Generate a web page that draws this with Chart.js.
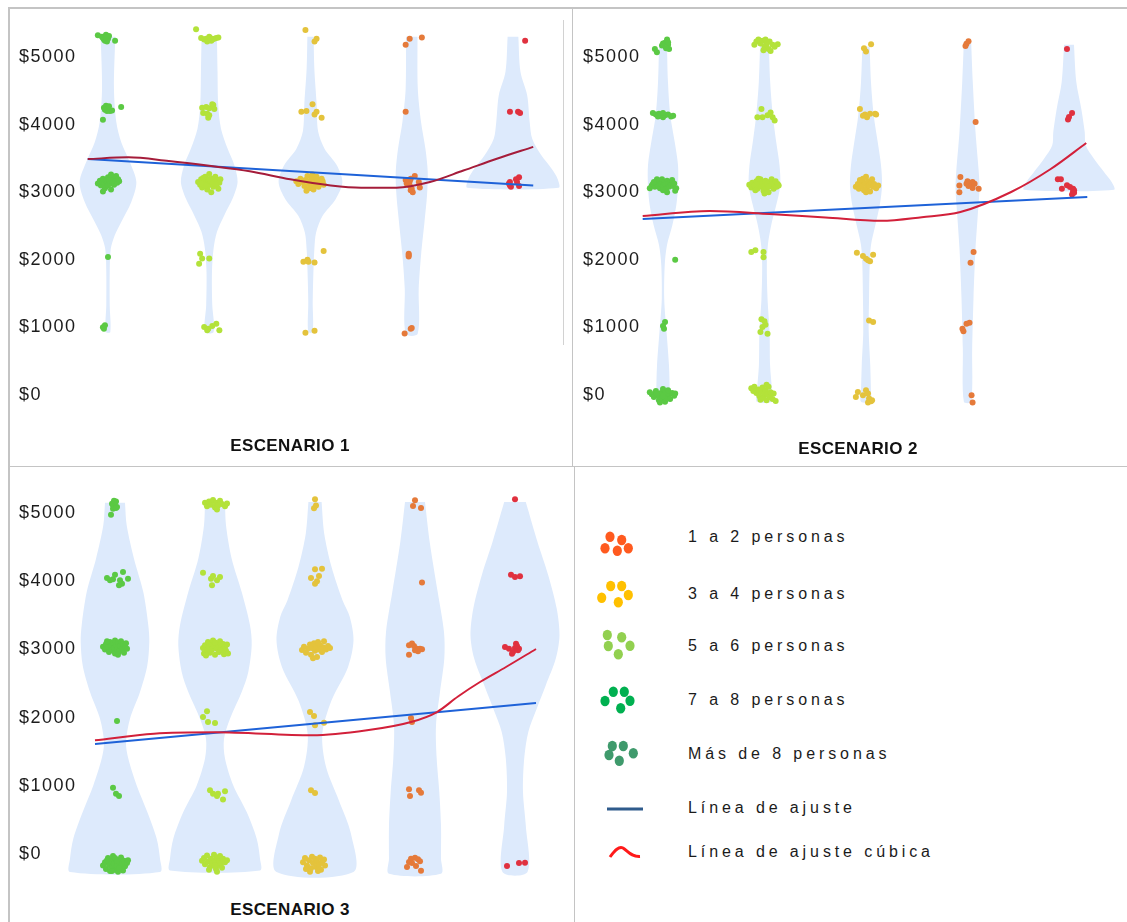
<!DOCTYPE html>
<html lang="es">
<head>
<meta charset="utf-8">
<title>Escenarios</title>
<script src="https://cdn.jsdelivr.net/npm/chart.js@4.4.1/dist/chart.umd.min.js"></script>
<style>
  html, body { margin:0; padding:0; background:#ffffff; }
  #page { position:relative; width:1127px; height:922px; overflow:hidden; background:#fff;
          font-family:'Liberation Sans', Arial, Helvetica, sans-serif; }
  .rule { position:absolute; background:#c4c4c4; }
  .panel { position:absolute; }
  .title { position:absolute; font-weight:bold; font-size:17px; letter-spacing:0.4px; color:#111;
           white-space:nowrap; transform:translate(-50%,-50%); line-height:1; }
  .legtext { position:absolute; left:688px; font-size:16px; letter-spacing:3.9px; color:#1b1b1b;
             white-space:nowrap; transform:translateY(-50%); line-height:1; }
  #legendIcons { position:absolute; left:575px; top:467px; }
</style>
</head>
<body>
<div id="page">
  <div class="rule" style="left:8px;top:7px;width:2px;height:915px;"></div>
  <div class="rule" style="left:8px;top:7px;width:1119px;height:2px;"></div>
  <div class="rule" style="left:572px;top:8px;width:1px;height:458px;"></div>
  <div class="rule" style="left:8px;top:466px;width:1119px;height:1px;"></div>
  <div class="rule" style="left:574px;top:466px;width:1px;height:456px;"></div>
  <div class="rule" style="left:563px;top:20px;width:1px;height:325px;background:#d2d2d2;"></div>
  <canvas id="c1" class="panel" width="562" height="432" style="left:10px;top:8px;"></canvas>
  <canvas id="c2" class="panel" width="554" height="432" style="left:573px;top:8px;"></canvas>
  <canvas id="c3" class="panel" width="564" height="430" style="left:10px;top:467px;"></canvas>
  <div id="titles"></div>
  <svg id="legendIcons" width="552" height="455"></svg>
  <div id="legend"></div>
</div>
<script>
// ---------------- DATA ----------------
const categoryPositions = [1, 2, 3, 4, 5];
const categoryColors = ['#5bc944', '#b3e23a', '#e4c33c', '#e57a3a', '#e0313f'];
const yTickValues = [0, 1000, 2000, 3000, 4000, 5000];
const scenarioTitles = ['ESCENARIO 1', 'ESCENARIO 2', 'ESCENARIO 3'];
const legendLabels = ['1 a 2 personas', '3 a 4 personas', '5 a 6 personas', '7 a 8 personas',
                      'Más de 8 personas', 'Línea de ajuste', 'Línea de ajuste cúbica'];
const legendDotColors = ['#ff5a1f', '#ffc000', '#92d050', '#00b050', '#3f9a6c'];

// violin profiles: [value, half width in category units], top to bottom
const s1Violins = [
  [[5300,.072],[4530,.059],[4040,.082],[3740,.131],[3450,.214],[3150,.28],[2855,.23],[2560,.131],[2360,.066],[2160,.027],[1820,.017],[1330,.017],[930,.023]],
  [[5300,.076],[4780,.082],[4285,.089],[3940,.116],[3645,.181],[3400,.248],[3150,.28],[2905,.231],[2660,.149],[2410,.076],[2165,.043],[1820,.027],[1330,.03],[930,.043]],
  [[5300,.031],[4830,.038],[4330,.06],[3900,.075],[3640,.14],[3400,.26],[3150,.315],[2900,.25],[2650,.12],[2400,.055],[2150,.038],[1870,.03],[1380,.022],[930,.022]],
  [[5300,.057],[4530,.06],[4040,.092],[3645,.135],[3300,.158],[2955,.151],[2560,.126],[2065,.092],[1575,.069],[905,.059]],
  [[5300,.053],[4780,.074],[4435,.14],[4040,.165],[3790,.19],[3545,.28],[3350,.38],[3200,.44],[3065,.45]]
];
const s2Violins = [
  [[5180,.039],[4630,.049],[4140,.072],[3745,.115],[3400,.148],[3100,.148],[2805,.131],[2510,.092],[2215,.039],[1920,.017],[1425,.012],[930,.035],[440,.059],[45,.066],[-100,.066]],
  [[5250,.042],[4630,.056],[4140,.082],[3745,.115],[3400,.148],[3100,.155],[2805,.115],[2510,.066],[2215,.033],[1920,.023],[1425,.03],[930,.05],[440,.055],[45,.075],[-100,.075]],
  [[5150,.036],[4630,.049],[4140,.076],[3745,.115],[3400,.148],[3100,.158],[2805,.135],[2510,.092],[2215,.049],[1920,.036],[1425,.03],[930,.027],[440,.042],[45,.049],[-100,.049]],
  [[5230,.036],[4630,.052],[3890,.079],[3300,.111],[3050,.118],[2660,.101],[2165,.079],[1425,.059],[685,.046],[-100,.036]],
  [[5180,.049],[4630,.072],[4235,.121],[3890,.155],[3695,.165],[3495,.246],[3300,.345],[3150,.42],[3035,.443]]
];
const s3Violins = [
  [[5150,.10],[4820,.117],[4330,.19],[3840,.283],[3355,.333],[3110,.343],[2765,.323],[2375,.25],[1985,.15],[1640,.11],[1400,.133],[1005,.217],[615,.323],[225,.417],[-70,.45],[-265,.45]],
  [[5150,.10],[4820,.11],[4330,.167],[3840,.267],[3355,.35],[3060,.367],[2670,.333],[2375,.267],[1985,.15],[1690,.09],[1400,.10],[1005,.183],[615,.317],[225,.417],[-70,.45],[-240,.45]],
  [[5160,.066],[4700,.092],[4210,.165],[3720,.275],[3475,.348],[3130,.385],[2740,.33],[2250,.165],[1760,.073],[1280,.11],[790,.238],[300,.359],[-265,.385]],
  [[5160,.10],[4575,.147],[3840,.227],[3255,.29],[2865,.293],[2375,.25],[1885,.21],[1400,.217],[910,.243],[420,.26],[-70,.26],[-290,.26]],
  [[5160,.108],[4575,.225],[4085,.333],[3600,.417],[3205,.445],[2865,.408],[2475,.308],[2130,.217],[1790,.133],[1400,.092],[910,.08],[420,.108],[-265,.125]]
];

// observations per category: [jitter offset, income]
const s1Points = [
  [[-0.10,5320],[-0.06,5300],[-0.04,5260],[-0.02,5330],[-0.03,5240],[0.00,5270],[-0.01,5230],[0.07,5240],[-0.05,5280],[0.01,5310],[-0.02,5290],
   [-0.04,4250],[-0.02,4280],[0.00,4230],[0.02,4200],[-0.01,4200],[0.04,4210],[-0.03,4220],[0.13,4260],[-0.05,4070],[0.01,4270],
   [-0.10,3130],[-0.08,3170],[-0.07,3100],[-0.06,3150],[-0.05,3200],[-0.04,3120],[-0.03,3060],[-0.02,3170],[-0.01,3140],[0.00,3220],[0.00,3100],[0.01,3180],[0.02,3130],[0.03,3040],[0.04,3160],[0.05,3210],[0.06,3110],[0.07,3170],[0.08,3240],[0.09,3140],[0.10,3190],[0.11,3160],[-0.05,3010],[0.03,3260],
   [0.00,2040],
   [-0.05,1000],[-0.03,1030],[-0.04,980]],
  [[-0.13,5410],[-0.08,5280],[-0.05,5260],[-0.03,5270],[0.00,5300],[0.00,5250],[0.03,5260],[0.05,5270],[0.07,5280],[0.09,5290],[0.02,5240],[-0.02,5230],[0.01,5280],
   [-0.07,4250],[-0.03,4260],[0.00,4240],[0.04,4290],[0.05,4230],[-0.06,4170],[-0.02,4160],[-0.01,4100],[0.03,4300],[0.00,4140],
   [-0.11,3150],[-0.09,3110],[-0.08,3190],[-0.07,3070],[-0.05,3160],[-0.04,3230],[-0.03,3120],[-0.02,3040],[-0.01,3180],[0.00,3270],[0.00,3110],[0.01,3150],[0.02,3000],[0.03,3200],[0.04,3080],[0.05,3140],[0.06,3230],[0.07,3100],[0.08,3170],[0.09,3050],[0.10,3140],[0.11,3190],[-0.06,3210],[0.03,3120],[-0.02,3090],[-0.04,3100],[0.02,3160],[0.06,3120],[-0.08,3130],[0.00,3190],
   [-0.09,2090],[-0.07,2020],[-0.10,1940],[0.00,2020],
   [-0.05,1006],[-0.01,981],[0.03,1021],[0.07,1055],[0.10,957],[-0.02,957]],
  [[-0.05,5400],[0.04,5230],[0.06,5270],
   [-0.09,4190],[-0.04,4200],[0.02,4300],[0.04,4150],[0.06,4190],[0.11,4100],
   [-0.14,3160],[-0.12,3120],[-0.10,3200],[-0.08,3150],[-0.06,3090],[-0.05,3180],[-0.03,3240],[-0.02,3130],[-0.01,3060],[0.00,3170],[0.01,3110],[0.02,3210],[0.03,3040],[0.04,3150],[0.05,3100],[0.06,3230],[0.07,3170],[0.08,3080],[0.09,3130],[0.11,3200],[0.12,3160],[0.13,3110],[-0.04,3020],[0.02,3260],
   [0.13,2130],[-0.07,1970],[-0.03,2000],[-0.02,1970],[0.04,1960],
   [-0.05,920],[0.04,950]],
  [[-0.06,5180],[-0.02,5270],[0.10,5290],
   [-0.06,4190],
   [-0.06,3180],[-0.05,3130],[-0.02,3100],[-0.02,3160],[-0.01,3030],[0.01,3000],[0.03,3240],[-0.01,3200],[0.07,3150],[0.08,3070],[0.00,3050],
   [-0.03,2090],[-0.03,2050],[-0.03,2070],
   [-0.07,910],[-0.01,980],[0.00,990]],
  [[0.12,5240],
   [-0.03,4190],[0.05,4190],[0.07,4170],
   [-0.04,3130],[-0.03,3100],[-0.02,3080],[0.03,3190],[0.06,3220],[0.06,3090],[0.04,3150],[-0.03,3150]]
];
const s2Points = [
  [[-0.08,5120],[-0.06,5070],[-0.01,5170],[0.00,5200],[0.02,5210],[0.04,5230],[0.05,5180],[0.06,5120],[0.03,5130],[0.04,5260],[0.05,5220],
   [-0.10,4170],[-0.07,4150],[-0.04,4160],[-0.02,4130],[0.00,4110],[0.02,4140],[0.05,4150],[0.08,4120],[0.10,4130],[0.00,4170],[-0.05,4120],
   [-0.13,3060],[-0.11,3100],[-0.10,3120],[-0.08,3080],[-0.07,3140],[-0.05,3100],[-0.04,3170],[-0.03,3060],[-0.02,3120],[-0.01,3190],[0.00,3090],[0.01,3150],[0.02,3110],[0.03,3050],[0.04,3170],[0.05,3120],[0.06,3080],[0.07,3150],[0.08,3110],[0.09,3180],[0.10,3090],[0.11,3130],[0.12,3020],[0.13,3060],[-0.06,3190],[0.00,3030],[0.04,3000],[-0.09,3150],
   [0.12,2000],
   [0.02,1080],[0.00,1020],[0.01,980],
   [-0.13,40],[-0.11,10],[-0.09,-30],[-0.07,60],[-0.05,-10],[-0.04,-80],[-0.02,30],[-0.01,-50],[0.00,90],[0.01,0],[0.02,-100],[0.03,40],[0.04,-40],[0.06,10],[0.07,-60],[0.09,30],[0.11,-10],[0.12,20],[-0.03,-110],[0.00,-20],[0.05,70],[-0.06,20]],
  [[-0.10,5180],[-0.08,5230],[-0.06,5260],[-0.04,5200],[-0.02,5240],[0.00,5150],[0.01,5260],[0.02,5190],[0.04,5120],[0.05,5230],[0.06,5090],[0.08,5180],[0.10,5150],[0.13,5190],[-0.01,5100],
   [-0.03,4230],[-0.07,4110],[-0.02,4110],[0.03,4140],[0.06,4180],[0.08,4110],[0.10,4060],
   [-0.15,3110],[-0.13,3070],[-0.12,3140],[-0.10,3100],[-0.08,3160],[-0.07,3050],[-0.05,3120],[-0.04,3190],[-0.03,3080],[-0.02,3140],[-0.01,3020],[0.00,3100],[0.01,3170],[0.02,3060],[0.03,3130],[0.04,3000],[0.05,3150],[0.06,3090],[0.07,3190],[0.08,3120],[0.09,3050],[0.10,3110],[0.11,3160],[0.12,3080],[0.13,3120],[0.14,3100],[-0.06,3200],[0.00,2980],[0.04,3080],[-0.09,3030],
   [-0.13,2115],[-0.09,2140],[-0.01,2115],[-0.01,2036],
   [-0.03,1120],[0.00,1090],[0.01,1040],[-0.02,1006],[-0.04,932],[0.03,907],
   [-0.13,100],[-0.11,60],[-0.10,120],[-0.08,30],[-0.06,80],[-0.05,-20],[-0.03,50],[-0.02,110],[-0.01,-40],[0.00,20],[0.01,70],[0.02,-80],[0.03,10],[0.04,120],[0.05,-30],[0.06,40],[0.08,-60],[0.09,20],[0.11,-90],[-0.04,-70],[0.02,150]],
  [[-0.02,5130],[0.00,5080],[0.05,5190],
   [-0.06,4230],[-0.01,4150],[0.01,4110],[0.04,4160],[0.09,4160],[0.10,4150],[-0.03,4130],
   [-0.10,3080],[-0.08,3120],[-0.07,3050],[-0.05,3150],[-0.04,3090],[-0.03,3200],[-0.02,3030],[-0.01,3130],[0.00,3230],[0.01,3070],[0.02,3160],[0.03,3100],[0.04,3010],[0.05,3140],[0.06,3190],[0.07,3080],[0.08,3120],[0.10,3060],[0.12,3100],[-0.06,3180],[0.00,3000],
   [-0.09,2105],[-0.03,2056],[0.00,2016],[0.04,1977],[0.07,2076],[0.02,1992],
   [0.03,1100],[0.07,1080],
   [-0.08,44],[-0.03,-5],[0.00,69],[0.02,20],[0.03,-54],[0.05,-94],[0.02,-113],[-0.10,-30],[0.06,-79]],
  [[-0.02,5163],[-0.01,5197],[0.01,5232],
   [0.08,4040],
   [-0.07,3225],[-0.08,3100],[-0.08,3000],[-0.01,3126],[0.02,3141],[0.04,3102],[0.05,3151],[0.07,3126],[0.05,3062],[0.11,3052],[0.01,3092],[0.00,3161],
   [0.06,2115],[0.03,1957],
   [-0.05,981],[-0.04,942],[-0.01,1055],[0.02,1070],
   [0.04,-5],[0.05,-113]],
  [[-0.02,5120],
   [-0.01,4077],[0.00,4112],[0.03,4172],
   [-0.11,3191],[-0.08,3191],[-0.07,3052],[-0.02,3102],[0.01,3077],[0.04,3052],[0.04,3013],[0.03,2964],[0.05,3028],[0.05,2990]]
];
const s3Points = [
  [[-0.03,5136],[-0.02,5112],[0.00,5151],[0.02,5088],[-0.02,5063],[0.01,5073],[-0.04,4975],[0.01,5170],[-0.01,5180],
   [-0.08,4047],[-0.05,4013],[0.00,4096],[0.05,4013],[0.08,4135],[0.13,4037],[0.07,3964],[0.04,3940],[-0.02,4028],
   [-0.12,3040],[-0.10,3000],[-0.09,3080],[-0.07,3030],[-0.06,2960],[-0.05,3110],[-0.04,3050],[-0.03,2990],[-0.02,3090],[-0.01,3020],[0.00,3130],[0.00,2940],[0.01,3060],[0.02,3000],[0.03,3100],[0.04,2970],[0.05,3050],[0.06,3120],[0.07,3010],[0.08,3070],[0.09,2950],[0.10,3040],[0.11,3090],[0.12,3010],[-0.08,3120],[0.03,2920],
   [0.02,1950],
   [-0.02,972],[0.01,884],[0.04,850],
   [-0.12,-170],[-0.10,-120],[-0.09,-220],[-0.07,-60],[-0.06,-160],[-0.05,-250],[-0.04,-100],[-0.03,-190],[-0.02,-30],[-0.01,-140],[0.00,-230],[0.01,-80],[0.02,-170],[0.03,-260],[0.04,-110],[0.05,-200],[0.06,-50],[0.07,-150],[0.08,-240],[0.09,-100],[0.10,-180],[0.12,-130],[0.13,-90],[-0.08,-90],[0.00,-60],[0.04,-210],[-0.03,-250],[0.02,-100]],
  [[-0.10,5150],[-0.08,5100],[-0.06,5170],[-0.04,5120],[-0.02,5190],[0.00,5080],[0.01,5150],[0.03,5110],[0.05,5180],[0.07,5130],[0.10,5100],[0.12,5140],[0.02,5050],
   [-0.12,4125],[-0.04,4037],[-0.02,4076],[0.02,4013],[0.05,4062],[-0.03,3940],
   [-0.12,3020],[-0.11,2940],[-0.10,3060],[-0.08,2990],[-0.07,3110],[-0.06,3030],[-0.05,2950],[-0.04,3080],[-0.03,3000],[-0.02,3130],[-0.01,3050],[0.00,2920],[0.01,3090],[0.02,3010],[0.03,3060],[0.04,2960],[0.05,3120],[0.06,3030],[0.07,2990],[0.08,3080],[0.09,2930],[0.10,3040],[0.11,2980],[0.12,3070],[0.13,2940],[-0.09,2910],[0.00,3100],
   [-0.12,2009],[-0.08,2092],[-0.07,1935],[0.00,1921],
   [-0.05,934],[-0.02,884],[0.02,850],[0.08,801],[0.10,919],[0.03,884],
   [-0.13,-100],[-0.11,-60],[-0.10,-150],[-0.08,-20],[-0.07,-110],[-0.05,-190],[-0.04,-70],[-0.03,-140],[-0.01,-10],[0.00,-100],[0.01,-220],[0.02,-50],[0.03,-160],[0.04,-90],[0.05,-30],[0.06,-130],[0.07,-200],[0.08,-70],[0.10,-120],[0.12,-90],[0.02,-260],[-0.06,-230],[0.00,-170]],
  [[0.00,5200],[0.01,5110],[-0.01,5070],
   [0.00,4174],[0.07,4184],[0.04,4076],[-0.04,4047],[0.02,3998],[0.00,3964],
   [-0.13,2990],[-0.11,3040],[-0.09,2950],[-0.07,3010],[-0.05,3070],[-0.04,2920],[-0.03,3020],[-0.01,3090],[0.00,2980],[0.01,3040],[0.02,2890],[0.03,3110],[0.04,3000],[0.05,3060],[0.07,2960],[0.08,3030],[0.09,3120],[0.11,3000],[0.13,3050],[0.15,3020],[-0.02,2870],[0.06,3000],
   [-0.05,2082],[-0.01,2023],[0.00,1887],[0.09,1923],
   [-0.04,934],[0.00,894],
   [-0.12,-120],[-0.10,-60],[-0.08,-170],[-0.06,-90],[-0.04,-210],[-0.03,-40],[-0.02,-130],[0.00,-70],[0.01,-190],[0.02,-110],[0.04,-160],[0.05,-50],[0.06,-230],[0.07,-120],[0.09,-80],[0.10,-170],[-0.05,-260],[0.03,-250],[-0.09,-220]],
  [[0.00,5186],[-0.02,5102],[0.06,5073],
   [0.07,3979],
   [-0.06,3060],[-0.03,3085],[-0.01,3050],[0.02,3011],[0.03,2972],[0.05,3011],[0.07,3001],[-0.06,2923],[0.00,2986],
   [-0.04,1994],[-0.03,1935],
   [-0.06,948],[-0.05,850],[0.04,934],[0.06,899],
   [-0.06,-117],[-0.04,-69],[0.00,-54],[0.03,-78],[0.05,-107],[0.01,-176],[0.06,-245],[-0.08,-191],[-0.03,-132]],
  [[0.00,5200],
   [-0.04,4096],[0.00,4062],[0.05,4071],
   [-0.10,3035],[-0.06,3011],[-0.02,2962],[0.01,3084],[0.03,2986],[0.04,3011],[0.00,3021],[-0.03,2938],[0.02,3050],
   [-0.08,-176],[0.04,-132],[0.10,-127]]
];

// fitted lines: [category position, income]
const s1Linear = [[0.8,3490],[5.2,3100]];
const s1Cubic  = [[0.8,3490],[1.2,3515],[1.6,3460],[2.0,3390],[2.4,3310],[2.8,3190],[3.2,3100],[3.5,3067],[3.85,3067],[4.18,3150],[4.51,3320],[4.84,3495],[5.2,3670]];
const s2Linear = [[0.8,2604],[5.18,2929]];
const s2Cubic  = [[0.8,2648],[1.46,2722],[2.05,2678],[2.6,2625],[3.15,2576],[3.55,2630],[3.93,2707],[4.43,3003],[4.82,3343],[5.17,3728]];
const s3Linear = [[0.8,1613],[5.21,2214]];
const s3Cubic  = [[0.8,1667],[1.39,1764],[2.0,1785],[2.97,1740],[3.52,1813],[3.96,1935],[4.22,2082],[4.43,2310],[4.65,2522],[4.91,2742],[5.21,3006]];

// ---------------- RENDER ----------------
Chart.defaults.font.family = "'Liberation Sans', Arial, Helvetica, sans-serif";
const violinFill = 'rgb(221,234,252)';
const blueLine = '#1e62d8';

const tickSpacingPlugin = {
  id: 'tickSpacing',
  beforeDraw(c) { c.ctx.letterSpacing = '1.5px'; },
  afterDraw(c) { c.ctx.letterSpacing = '0px'; }
};

function violinPolygon(cat, profile) {
  const right = profile.map(([v, hw]) => ({x: cat + hw, y: v}));
  const left = profile.slice().reverse().map(([v, hw]) => ({x: cat - hw, y: v}));
  return right.concat(left);
}
const toXY = arr => arr.map(([x, y]) => ({x, y}));

function buildPanel(canvasId, violins, points, linear, cubic, layout) {
  const datasets = [];
  categoryPositions.forEach((cat, i) => {
    datasets.push({
      type: 'scatter',
      data: points[i].map(([dx, v]) => ({x: cat + dx, y: v})),
      backgroundColor: categoryColors[i], borderWidth: 0,
      pointRadius: 3, pointHoverRadius: 3, order: 2
    });
  });
  categoryPositions.forEach((cat, i) => {
    datasets.push({
      type: 'line', data: violinPolygon(cat, violins[i]),
      fill: 'shape', backgroundColor: violinFill,
      borderColor: 'rgba(0,0,0,0)', borderWidth: 0,
      pointRadius: 0, pointHoverRadius: 0, tension: 0.3, order: 3
    });
  });
  datasets.push({
    type: 'line', data: toXY(linear), borderColor: blueLine, borderWidth: 2,
    pointRadius: 0, pointHoverRadius: 0, fill: false, tension: 0, order: 1
  });
  datasets.push({
    type: 'line', data: toXY(cubic), borderColor: layout.red, borderWidth: 2,
    pointRadius: 0, pointHoverRadius: 0, fill: false, cubicInterpolationMode: 'monotone', order: 0
  });

  new Chart(document.getElementById(canvasId), {
    type: 'scatter',
    data: {datasets},
    options: {
      responsive: false, animation: false, events: [],
      layout: {padding: layout.padding},
      plugins: {legend: {display: false}, tooltip: {enabled: false}, title: {display: false}},
      scales: {
        x: {type: 'linear', min: layout.xMin, max: 5.5, display: false},
        y: {
          type: 'linear', min: layout.yMin, max: layout.yMax,
          grid: {display: false}, border: {display: false},
          afterFit: s => { s.width = 0; },
          afterBuildTicks: s => { s.ticks = yTickValues.map(v => ({value: v})); },
          ticks: {
            mirror: true, padding: 0, autoSkip: false, color: '#1c1c1c',
            font: {size: 18, lineHeight: 1},
            callback: v => '$' + v
          }
        }
      }
    },
    plugins: [tickSpacingPlugin]
  });
}

buildPanel('c1', s1Violins, s1Points, s1Linear, s1Cubic,
  {padding: {left: 9, top: 15.2, right: 8.4, bottom: 18}, xMin: 0.121, yMin: -400, yMax: 5500, red: '#a51c3a'});
buildPanel('c2', s2Violins, s2Points, s2Linear, s2Cubic,
  {padding: {left: 10, top: 15.2, right: 7.25, bottom: 18}, xMin: 0.2118, yMin: -400, yMax: 5500, red: '#d2203a'});
buildPanel('c3', s3Violins, s3Points, s3Linear, s3Cubic,
  {padding: {left: 9, top: 18.7, right: 9, bottom: 15.7}, xMin: 0.04, yMin: -400, yMax: 5400, red: '#d2203a'});

// titles
const titlePos = [[290, 445], [858, 447.5], [290, 909]];
const titlesDiv = document.getElementById('titles');
scenarioTitles.forEach((t, i) => {
  const d = document.createElement('div');
  d.className = 'title';
  d.style.left = titlePos[i][0] + 'px';
  d.style.top = titlePos[i][1] + 'px';
  d.textContent = t;
  titlesDiv.appendChild(d);
});

// legend
const legendY = [537, 594, 646, 700, 754, 808, 852];
const legendDiv = document.getElementById('legend');
legendLabels.forEach((t, i) => {
  const d = document.createElement('div');
  d.className = 'legtext';
  d.style.top = legendY[i] + 'px';
  d.textContent = t;
  legendDiv.appendChild(d);
});
const dotPatterns = [
  [[610,536.7],[621.7,540],[605,548.3],[617.3,550.7],[628.3,548.3]],
  [[610.7,586],[621.7,586],[601.7,597.7],[618.3,602.3],[628.3,595]],
  [[607.3,635],[621.7,637.3],[608.3,646],[630,645.7],[618.3,654.3]],
  [[613.3,691.7],[624.3,691.7],[605,701],[630,700.7],[620.7,708.3]],
  [[612.3,746],[623.3,746],[609,755],[633.3,753.3],[619.3,760.7]]
];
const ox = 575, oy = 467;
let svg = '';
dotPatterns.forEach((pat, i) => {
  pat.forEach(([x, y]) => {
    svg += `<ellipse cx="${x - ox}" cy="${y - oy}" rx="4.6" ry="5.2" fill="${legendDotColors[i]}"/>`;
  });
});
svg += `<line x1="${607 - ox}" y1="${809 - oy}" x2="${643 - ox}" y2="${809 - oy}" stroke="#2f5b8c" stroke-width="3"/>`;
svg += `<path d="M${610 - ox},${857 - oy} C${615 - ox},${850 - oy} ${619 - ox},${846 - oy} ${623 - ox},${848 - oy} C${628 - ox},${851 - oy} ${631 - ox},${857 - oy} ${640 - ox},${856.5 - oy}" fill="none" stroke="#ff1a1a" stroke-width="3"/>`;
document.getElementById('legendIcons').innerHTML = svg;
</script>
</body>
</html>
